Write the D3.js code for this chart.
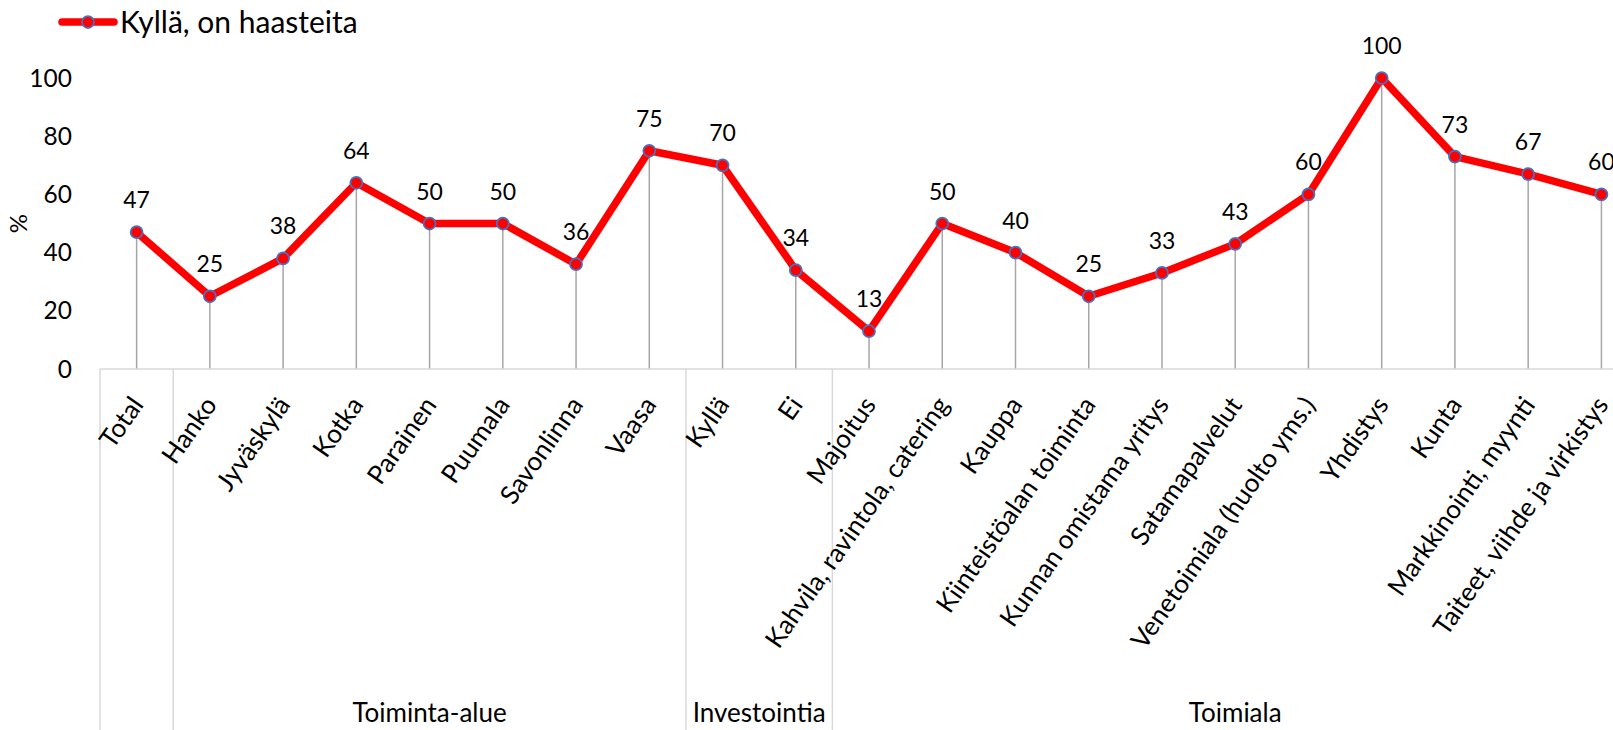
<!DOCTYPE html>
<html><head><meta charset="utf-8">
<script src="https://cdn.jsdelivr.net/npm/d3@7"></script>
<style>
html,body{margin:0;padding:0;background:#fff;}
text{font-family:Lato,"Noto Sans",sans-serif;fill:#000;}
</style></head>
<body>
<svg id="chart" width="1613" height="730"></svg>
<script>
const categories = ["Total","Hanko","Jyväskylä","Kotka","Parainen","Puumala","Savonlinna","Vaasa","Kyllä","Ei","Majoitus","Kahvila, ravintola, catering","Kauppa","Kiinteistöalan toiminta","Kunnan omistama yritys","Satamapalvelut","Venetoimiala (huolto yms.)","Yhdistys","Kunta","Markkinointi, myynti","Taiteet, viihde ja virkistys"];
const values = [47,25,38,64,50,50,36,75,70,34,13,50,40,25,33,43,60,100,73,67,60];
const groupNames = ["", "Toiminta-alue", "Investointia", "Toimiala"];
const groupSizes = [1, 7, 2, 11];
const yTicks = [0,20,40,60,80,100];
const seriesName = "Kyllä, on haasteita";

const svg = d3.select("#chart");
const left = 100, bandW = 73.24;
const x = d3.scaleBand().domain(categories).range([left, left + categories.length*bandW]).padding(0);
const y = d3.scaleLinear().domain([0,100]).range([369, 78]);
const cx = d => x(d) + x.bandwidth()/2;

// y tick labels
svg.append("g").selectAll("text").data(yTicks).join("text")
  .attr("x", 72).attr("y", d => y(d)).attr("dy","0.35em")
  .attr("text-anchor","end").style("font-size", "24.5px").text(d => d);

// y title
svg.append("text").attr("transform", `translate(27,${y(50)}) rotate(-90)`)
  .attr("text-anchor","middle").style("font-size", "24px").text("%");

// drop lines
svg.append("g").selectAll("line").data(categories).join("line")
  .attr("x1", d => cx(d)).attr("x2", d => cx(d))
  .attr("y1", (d,i) => y(values[i])).attr("y2", y(0))
  .attr("stroke","#a6a6a6").attr("stroke-width",1.5);

// baseline axis
svg.append("line").attr("x1", left).attr("x2", x.range()[1]).attr("y1", y(0)).attr("y2", y(0))
  .attr("stroke","#d9d9d9").attr("stroke-width",1.5);

// group separators
let cum = 0; const bounds = [0];
groupSizes.forEach(s => { cum += s; bounds.push(cum); });
svg.append("g").selectAll("line").data(bounds).join("line")
  .attr("x1", d => left + d*bandW).attr("x2", d => left + d*bandW)
  .attr("y1", y(0)).attr("y2", 730)
  .attr("stroke","#d9d9d9").attr("stroke-width",1.5);

// group labels
svg.append("g").selectAll("text").data(groupNames).join("text")
  .attr("x", (d,i) => left + (bounds[i]+bounds[i+1])/2*bandW)
  .attr("y", 722).attr("text-anchor","middle").style("font-size", "26px").text(d => d);

// category labels
svg.append("g").selectAll("text").data(categories).join("text")
  .attr("transform", d => `translate(${cx(d)+8},${y(0)+36}) rotate(-55)`)
  .attr("text-anchor","end").style("font-size", "26px").text(d => d);

// line
const line = d3.line().x((d,i) => cx(categories[i])).y(d => y(d));
svg.append("path").datum(values).attr("d", line).attr("fill","none")
  .attr("stroke","#ff0000").attr("stroke-width",7.5).attr("stroke-linejoin","round");

// markers
svg.append("g").selectAll("circle").data(values).join("circle")
  .attr("cx", (d,i) => cx(categories[i])).attr("cy", d => y(d))
  .attr("r", 6).attr("fill","#ff0000").attr("stroke","#4472c4").attr("stroke-width",1.75);

// data labels
svg.append("g").selectAll("text").data(values).join("text")
  .attr("x", (d,i) => cx(categories[i])).attr("y", d => y(d) - 24)
  .attr("text-anchor","middle").style("font-size", "23px").text(d => d);

// legend
const lg = svg.append("g");
lg.append("line").attr("x1",62).attr("x2",114).attr("y1",22).attr("y2",22)
  .attr("stroke","#ff0000").attr("stroke-width",7.5).attr("stroke-linecap","round");
lg.append("circle").attr("cx",88).attr("cy",22).attr("r",6)
  .attr("fill","#ff0000").attr("stroke","#4472c4").attr("stroke-width",1.75);
lg.append("text").attr("x",120).attr("y",22).attr("dy","0.36em").style("font-size","30px").text(seriesName);
</script>
</body></html>
